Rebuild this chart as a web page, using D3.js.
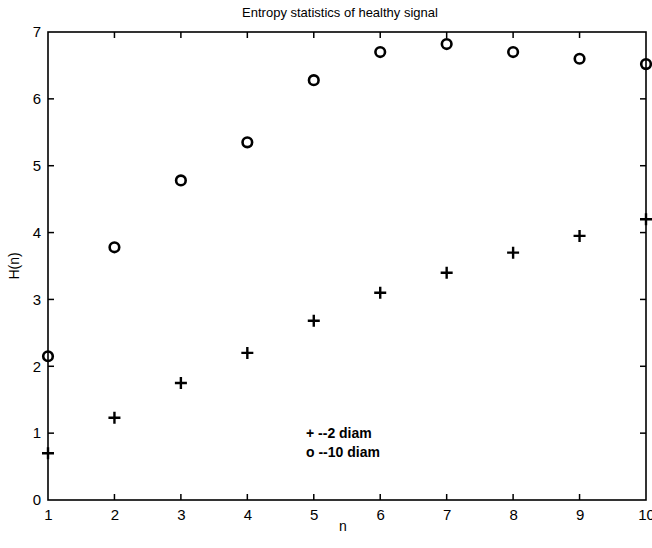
<!DOCTYPE html>
<html>
<head>
<meta charset="utf-8">
<script src="https://cdn.jsdelivr.net/npm/d3@7"></script>
<style>
  body { margin: 0; background: #fff; }
  text { font-family: "Liberation Sans", Arial, sans-serif; fill: #000; }
</style>
</head>
<body>
<script>
// data
const n = [1, 2, 3, 4, 5, 6, 7, 8, 9, 10]
const diam2 = [0.70, 1.23, 1.75, 2.20, 2.68, 3.10, 3.40, 3.70, 3.95, 4.20]
const diam10 = [2.15, 3.78, 4.78, 5.35, 6.28, 6.70, 6.82, 6.70, 6.60, 6.52]
const xTicks = [1, 2, 3, 4, 5, 6, 7, 8, 9, 10]
const yTicks = [0, 1, 2, 3, 4, 5, 6, 7]
const legendLabels = ['+ --2 diam', 'o --10 diam']

const W = 652, H = 548
const M = { top: 32, right: 6, bottom: 48, left: 48 }
const iw = W - M.left - M.right, ih = H - M.top - M.bottom

const svg = d3.select('body').append('svg')
  .attr('width', W).attr('height', H)

const g = svg.append('g')
  .attr('transform', 'translate(' + [M.left, M.top] + ')')

const x = d3.scaleLinear().domain([1, 10]).range([0, iw])
const y = d3.scaleLinear().domain([0, 7]).range([ih, 0])

// tick labels via axes, tick marks drawn inward on all four sides
const TICK = 6
const fmt = d3.format('d')
function styleAxis(sel) {
  sel.select('.domain').remove()
  sel.selectAll('.tick line').remove()
  sel.selectAll('text').style('font-size', '15px')
}
g.append('g').attr('transform', 'translate(0,' + ih + ')')
  .call(d3.axisBottom(x).tickValues(xTicks).tickFormat(fmt).tickSize(0).tickPadding(9))
  .call(styleAxis)
g.append('g')
  .call(d3.axisLeft(y).tickValues(yTicks).tickFormat(fmt).tickSize(0).tickPadding(7))
  .call(styleAxis)

const ticks = g.append('g').attr('stroke', '#000').attr('stroke-width', 1.5)
ticks.selectAll('.xb').data(xTicks.slice(1, -1)).join('line')
  .attr('x1', d => x(d)).attr('x2', d => x(d)).attr('y1', ih).attr('y2', ih - TICK)
ticks.selectAll('.xt').data(xTicks.slice(1, -1)).join('line')
  .attr('x1', d => x(d)).attr('x2', d => x(d)).attr('y1', 0).attr('y2', TICK)
ticks.selectAll('.yl').data(yTicks.slice(1, -1)).join('line')
  .attr('y1', d => y(d)).attr('y2', d => y(d)).attr('x1', 0).attr('x2', TICK)
ticks.selectAll('.yr').data(yTicks.slice(1, -1)).join('line')
  .attr('y1', d => y(d)).attr('y2', d => y(d)).attr('x1', iw).attr('x2', iw - TICK)

g.append('rect')
  .attr('width', iw).attr('height', ih)
  .attr('fill', 'none').attr('stroke', '#000').attr('stroke-width', 1.6)

// + markers
g.append('g').selectAll('path')
  .data(n)
  .join('path')
    .attr('d', (d, i) => {
      const cx = x(d), cy = y(diam2[i]), s = 6
      return 'M' + [cx - s, cy] + 'H' + (cx + s) + 'M' + [cx, cy - s] + 'V' + (cy + s)
    })
    .attr('stroke', '#000').attr('stroke-width', 2.4)

// o markers
g.append('g').selectAll('circle')
  .data(n)
  .join('circle')
    .attr('cx', d => x(d))
    .attr('cy', (d, i) => y(diam10[i]))
    .attr('r', 4.8)
    .attr('fill', 'none').attr('stroke', '#000').attr('stroke-width', 2.6)

// legend
g.append('g').selectAll('text')
  .data(legendLabels)
  .join('text')
    .attr('x', 258)
    .attr('y', (d, i) => 406 + i * 19)
    .style('font-size', '14px').style('font-weight', 'bold')
    .text(d => d)

// title and labels
svg.append('text')
  .attr('x', 340).attr('y', 17)
  .attr('text-anchor', 'middle').style('font-size', '13px')
  .text('Entropy statistics of healthy signal')
svg.append('text')
  .attr('x', 343).attr('y', 531)
  .attr('text-anchor', 'middle').style('font-size', '14px')
  .text('n')
svg.append('text')
  .attr('transform', 'translate(19,' + (M.top + ih / 2) + ') rotate(-90)')
  .attr('text-anchor', 'middle').style('font-size', '14px')
  .text('H(n)')
</script>
</body>
</html>
